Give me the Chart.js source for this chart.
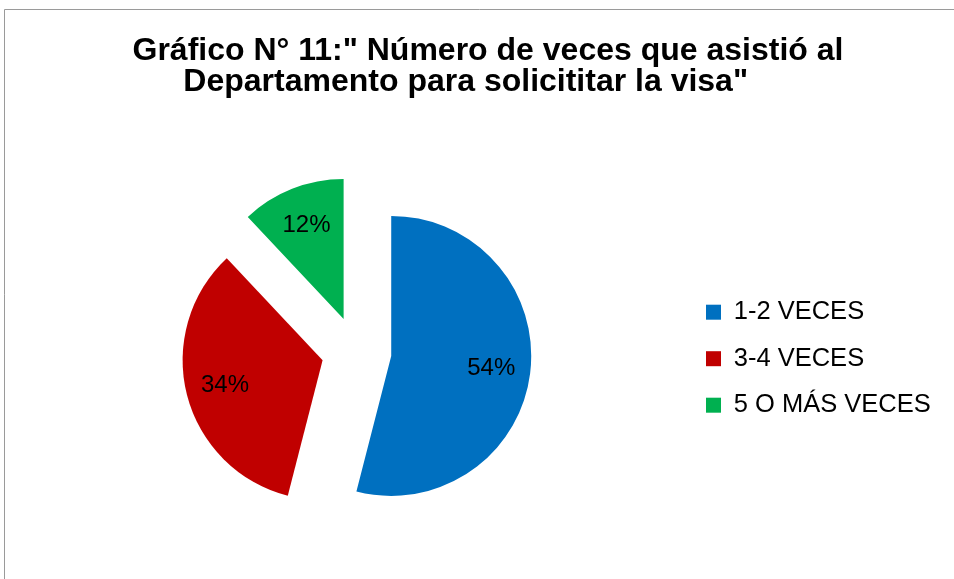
<!DOCTYPE html>
<html>
<head>
<meta charset="utf-8">
<script src="https://cdn.jsdelivr.net/npm/chart.js@4.4.0/dist/chart.umd.min.js"></script>
<style>
  html, body { margin: 0; padding: 0; background: #fff; }
  #chart { display: block; }
</style>
</head>
<body>
<canvas id="chart" width="954" height="579"></canvas>
<script>
// chart data
const categories = ['1-2 VECES', '3-4 VECES', '5 O MÁS VECES'];
const percentages = [54, 34, 12];
const sliceColors = ['#0070C0', '#C00000', '#00B050'];
const titleLines = ['Gráfico N° 11:" Número de veces que asistió al', 'Departamento para solicititar la visa"'];

const FONT = '"Liberation Sans", Arial, sans-serif';
const EXPLODE = 35;     // px each slice is pulled away from the centre
const LABEL_POS = 0.72; // label distance as fraction of radius

function midAngle(arc) {
    return (arc.startAngle + arc.endAngle) / 2;
}

// pull every slice out along its middle angle while it is drawn
const explodePlugin = {
    id: 'explode',
    beforeDatasetDraw(chart, args) {
        args.meta.data.forEach(arc => {
            const a = midAngle(arc);
            arc.x += Math.cos(a) * EXPLODE;
            arc.y += Math.sin(a) * EXPLODE;
        });
    },
    afterDatasetDraw(chart, args) {
        args.meta.data.forEach(arc => {
            const a = midAngle(arc);
            arc.x -= Math.cos(a) * EXPLODE;
            arc.y -= Math.sin(a) * EXPLODE;
        });
    }
};

// percentage labels inside the slices
const labelPlugin = {
    id: 'sliceLabels',
    afterDatasetsDraw(chart) {
        const ctx = chart.ctx;
        const meta = chart.getDatasetMeta(0);
        const data = chart.data.datasets[0].data;
        const total = data.reduce((s, v) => s + v, 0);
        ctx.save();
        ctx.font = '24px ' + FONT;
        ctx.fillStyle = '#000';
        ctx.textAlign = 'center';
        ctx.textBaseline = 'middle';
        meta.data.forEach((arc, i) => {
            const a = midAngle(arc);
            const d = EXPLODE + arc.outerRadius * LABEL_POS;
            ctx.fillText(Math.round(data[i] / total * 100) + '%',
                arc.x + Math.cos(a) * d, arc.y + Math.sin(a) * d);
        });
        ctx.restore();
    }
};

// thin grey frame on the top and left edge
const framePlugin = {
    id: 'frame',
    beforeDraw(chart) {
        const ctx = chart.ctx;
        ctx.save();
        ctx.strokeStyle = '#9a9a9a';
        ctx.lineWidth = 1;
        ctx.beginPath();
        ctx.moveTo(4.5, chart.height);
        ctx.lineTo(4.5, 9.5);
        ctx.lineTo(chart.width, 9.5);
        ctx.stroke();
        ctx.restore();
    }
};

// the two title lines are not centred on the same spot in the original
const nb = n => '\u00a0'.repeat(n);

new Chart(document.getElementById('chart'), {
    type: 'pie',
    data: {
        labels: categories,
        datasets: [{
            data: percentages,
            backgroundColor: sliceColors,
            borderWidth: 0,
            hoverOffset: 0,
            radius: 140
        }]
    },
    options: {
        responsive: false,
        animation: false,
        events: [],
        layout: {
            padding: { left: 28, right: 15, top: 0, bottom: 20 }
        },
        plugins: {
            title: {
                display: true,
                text: [nb(1) + titleLines[0], titleLines[1] + nb(4)],
                color: '#000',
                font: { family: FONT, size: 32, weight: 'bold', lineHeight: 31 / 32 },
                padding: { top: 36, bottom: 46 }
            },
            legend: {
                position: 'right',
                fullSize: false,
                maxWidth: 254,
                title: { display: true, text: ' ', font: { size: 12 }, padding: 0 },
                labels: {
                    boxWidth: 15,
                    boxHeight: 15,
                    padding: 21,
                    color: '#000',
                    font: { family: FONT, size: 25.5 }
                }
            },
            tooltip: { enabled: false }
        }
    },
    plugins: [framePlugin, explodePlugin, labelPlugin]
});
</script>
</body>
</html>
